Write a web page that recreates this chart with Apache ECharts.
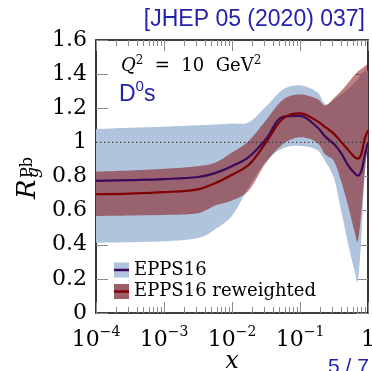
<!DOCTYPE html>
<html><head><meta charset="utf-8">
<script src="https://cdn.jsdelivr.net/npm/echarts@6/dist/echarts.min.js"></script>
<style>html,body{margin:0;padding:0;background:#fff}#c{width:372px;height:371px}</style>
</head><body><div id="c"></div>
<script>
// x grid (log10 x = -4 ... 0)
const xValues = [1e-4, 3.162e-4, 1e-3, 3.162e-3, 5.623e-3, 1e-2, 1.778e-2, 3.162e-2, 5.623e-2, 0.1, 0.1778, 0.2344, 0.3162, 0.3981, 0.5012, 0.631, 0.7079, 0.7943, 0.8913, 1];
const epps16Upper   = [1.077, 1.085, 1.092, 1.100, 1.105, 1.110, 1.118, 1.210, 1.310, 1.335, 1.295, 1.225, 1.250, 1.280, 1.310, 1.350, 1.370, 1.400, 1.415, 1.420];
const epps16Lower   = [0.412, 0.415, 0.420, 0.440, 0.490, 0.570, 0.740, 0.890, 0.965, 0.980, 0.955, 0.890, 0.790, 0.610, 0.420, 0.250, 0.190, 0.420, 0.800, 0.980];
const epps16Central = [0.774, 0.779, 0.785, 0.797, 0.820, 0.860, 0.915, 1.020, 1.150, 1.155, 1.090, 1.035, 0.990, 0.940, 0.870, 0.820, 0.805, 0.830, 0.920, 1.000];
const rewUpper      = [0.828, 0.835, 0.845, 0.860, 0.880, 0.940, 1.010, 1.130, 1.250, 1.280, 1.255, 1.215, 1.260, 1.300, 1.345, 1.395, 1.415, 1.430, 1.445, 1.460];
const rewLower      = [0.569, 0.572, 0.575, 0.585, 0.630, 0.660, 0.720, 0.880, 0.990, 1.030, 1.000, 0.930, 0.890, 0.780, 0.640, 0.480, 0.420, 0.580, 0.820, 1.000];
const rewCentral    = [0.696, 0.700, 0.708, 0.725, 0.760, 0.810, 0.870, 1.000, 1.140, 1.170, 1.125, 1.090, 1.050, 1.005, 0.960, 0.915, 0.905, 0.930, 1.020, 1.070];
const refLevel = 1;
const xMin = 1e-4, xMax = 1;
const yMin = 0, yMax = 1.6, yStep = 0.2;
const seriesNames = ['EPPS16', 'EPPS16 reweighted'];

const minorTicks = [];
for (let d = -4; d < 0; d++) for (let m = 2; m <= 9; m++) minorTicks.push(m * Math.pow(10, d));

const pair = (xs, ys) => xs.map((x, i) => [x, ys[i]]);

const blueBand = '#b0c4de';
const redBand = 'rgba(128,0,0,0.5)';
const purple = '#3c0a5c';
const maroon = '#800000';
const textBlue = '#2222aa';
const serif = 'DejaVu Serif';
const tickGray = '#8a8a8a';

// smooth path (Catmull-Rom -> cubic Bezier) through pixel points
function curveTo(p) {
  let s = '';
  for (let i = 0; i < p.length - 1; i++) {
    const p0 = p[Math.max(i - 1, 0)], p1 = p[i], p2 = p[i + 1], p3 = p[Math.min(i + 2, p.length - 1)];
    const k = 1 / 6;
    const c1 = [p1[0] + (p2[0] - p0[0]) * k, p1[1] + (p2[1] - p0[1]) * k];
    const c2 = [p2[0] - (p3[0] - p1[0]) * k, p2[1] - (p3[1] - p1[1]) * k];
    s += ' C' + c1[0] + ' ' + c1[1] + ' ' + c2[0] + ' ' + c2[1] + ' ' + p2[0] + ' ' + p2[1];
  }
  return s;
}
function bandRenderer(upper, lower, color) {
  return function (params, api) {
    if (params.dataIndex !== 0) return null;
    const up = xValues.map((x, i) => api.coord([x, upper[i]]));
    const lo = xValues.map((x, i) => api.coord([x, lower[i]])).reverse();
    const d = 'M' + up[0][0] + ' ' + up[0][1] + curveTo(up) +
              ' L' + lo[0][0] + ' ' + lo[0][1] + curveTo(lo) + ' Z';
    return { type: 'path', shape: { pathData: d }, style: { fill: color, stroke: null } };
  };
}
function bandSeries(name, upper, lower, color) {
  return { name: name, type: 'custom', renderItem: bandRenderer(upper, lower, color), silent: true, clip: true,
    data: xValues.map((x, i) => [x, lower[i], upper[i]]), encode: { x: 0, y: [1, 2] },
    itemStyle: { color: color } };
}

function xAxisDef(pos, major, show) {
  return {
    type: 'log', logBase: 10, min: xMin, max: xMax, position: pos, splitNumber: 4,
    axisLine: { show: show, lineStyle: { color: '#000', width: 1.6 } },
    axisTick: major ? { show: true, inside: true, length: 11, lineStyle: { color: tickGray, width: 1 } }
                    : { show: true, inside: true, length: 6, customValues: minorTicks, lineStyle: { color: tickGray, width: 1 } },
    axisLabel: { show: false },
    splitLine: { show: false }
  };
}
const xMain = xAxisDef('bottom', true, true);
xMain.axisLabel = {
  show: true, margin: 12,
  formatter: function (v) {
    const e = Math.round(Math.log10(v));
    return e === 0 ? '{b|1}' : '{b|10}{s|\u2212' + (-e) + '}';
  },
  rich: {
    b: { fontFamily: serif, fontSize: 22, lineHeight: 26, color: '#000', verticalAlign: 'bottom' },
    s: { fontFamily: serif, fontSize: 14, lineHeight: 14, color: '#000', verticalAlign: 'top' }
  }
};
xMain.name = 'x';
xMain.nameLocation = 'middle';
xMain.nameGap = 37;
xMain.nameMoveOverlap = false;
xMain.nameTextStyle = { fontFamily: serif, fontStyle: 'italic', fontSize: 24, color: '#000' };

const option = {
  animation: false,
  backgroundColor: '#fff',
  title: { text: '[JHEP 05 (2020) 037]', right: 2, top: 3,
    textStyle: { color: textBlue, fontFamily: 'Liberation Sans', fontSize: 23, fontWeight: 'normal' } },
  grid: { left: 96, right: 4, top: 40, bottom: 58, containLabel: false, outerBoundsMode: 'none' },
  xAxis: [xMain, xAxisDef('bottom', false, false), xAxisDef('top', true, true), xAxisDef('top', false, false)],
  yAxis: [
    { type: 'value', min: yMin, max: yMax, interval: yStep, position: 'left',
      axisLine: { show: true, lineStyle: { color: '#000', width: 1.6 } },
      axisTick: { show: true, inside: true, length: 12, lineStyle: { color: tickGray } },
      axisLabel: { margin: 9, fontFamily: serif, fontSize: 22, color: '#000' },
      splitLine: { show: false } },
    { type: 'value', min: yMin, max: yMax, interval: yStep, position: 'right',
      axisLine: { show: true, lineStyle: { color: '#000', width: 1.6 } },
      axisTick: { show: true, inside: true, length: 12, lineStyle: { color: tickGray } },
      axisLabel: { show: false }, splitLine: { show: false } }
  ],
  legend: [
    { orient: 'vertical', left: 114, top: 261, padding: 0, itemWidth: 15, itemHeight: 15, itemGap: 3.5, icon: 'rect', selectedMode: false,
      textStyle: { fontFamily: serif, fontSize: 18, lineHeight: 15, color: '#000' },
      data: [ { name: seriesNames[0], itemStyle: { color: blueBand, borderWidth: 0, opacity: 1 } },
              { name: seriesNames[1], itemStyle: { color: '#9a5f6b', borderWidth: 0, opacity: 1 } } ] },
    { orient: 'vertical', left: 114, top: 261, padding: 0, itemWidth: 15, itemHeight: 2.5, itemGap: 3.5, icon: 'rect', selectedMode: false,
      textStyle: { fontFamily: serif, fontSize: 18, lineHeight: 15, color: 'rgba(0,0,0,0)' },
      data: [ { name: seriesNames[0], itemStyle: { color: purple, borderWidth: 0, opacity: 1 } },
              { name: seriesNames[1], itemStyle: { color: maroon, borderWidth: 0, opacity: 1 } } ] }
  ],
  series: [
    bandSeries(seriesNames[0], epps16Upper, epps16Lower, blueBand),
    bandSeries(seriesNames[1], rewUpper, rewLower, redBand),
    { name: 'ref', type: 'line', data: [[xMin, refLevel], [xMax, refLevel]], showSymbol: false, silent: true,
      lineStyle: { color: '#333', width: 1.2, type: [1.2, 2.8] } },
    { name: seriesNames[0], type: 'line', data: pair(xValues, epps16Central), smooth: 0.35, showSymbol: false, silent: true,
      lineStyle: { color: purple, width: 2.2 } },
    { name: seriesNames[1], type: 'line', data: pair(xValues, rewCentral), smooth: 0.35, showSymbol: false, silent: true,
      lineStyle: { color: maroon, width: 2.2 } }
  ],
  graphic: [
    { type: 'text', left: 121, top: 55,
      style: { text: '{q|Q}{s|2}{t|  =  10  GeV}{s|2}', rich: {
        q: { fontFamily: serif, fontStyle: 'italic', fontSize: 18, lineHeight: 20, verticalAlign: 'bottom', fill: '#000' },
        t: { fontFamily: serif, fontSize: 18, lineHeight: 20, verticalAlign: 'bottom', fill: '#000' },
        s: { fontFamily: serif, fontSize: 12, lineHeight: 12, verticalAlign: 'top', fill: '#000' } } } },
    { type: 'text', left: 119, top: 79,
      style: { text: '{d|D}{s|0}{d|s}', rich: {
        d: { fontFamily: 'Liberation Sans', fontSize: 23, lineHeight: 27, verticalAlign: 'bottom', fill: textBlue },
        s: { fontFamily: 'Liberation Sans', fontSize: 15, lineHeight: 15, verticalAlign: 'top', fill: textBlue } } } },
    { type: 'text', left: 328, top: 357,
      style: { text: '5 / 7', fontFamily: 'Liberation Sans', fontSize: 21, fill: textBlue } },
    { type: 'group', x: 41, y: 199, rotation: Math.PI / 2, children: [
      { type: 'text', x: 0, y: 0, style: { text: 'R', fontFamily: serif, fontStyle: 'italic', fontSize: 26, fill: '#000', verticalAlign: 'bottom' } },
      { type: 'text', x: 21, y: 1, style: { text: 'g', fontFamily: serif, fontStyle: 'italic', fontSize: 17, fill: '#000', verticalAlign: 'bottom' } },
      { type: 'text', x: 21, y: -5, style: { text: 'Pb', fontFamily: serif, fontSize: 16, fill: '#000', verticalAlign: 'bottom' } }
    ] }
  ]
};
const chart = echarts.init(document.getElementById('c'), null, { renderer: 'canvas' });
chart.setOption(option);
</script>
</body></html>
